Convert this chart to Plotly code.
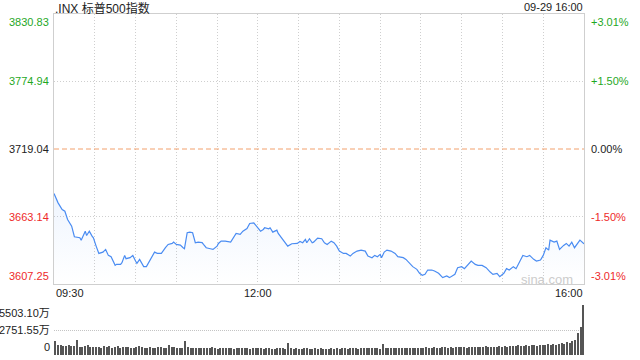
import plotly.graph_objects as go
import pandas as pd

DATE = "2022-09-29"
PREV_CLOSE = 3719.04

times = ["09:30","09:33","09:36","09:38","09:40","09:43","09:45","09:49","09:50","09:53","09:54","09:56","09:58","09:59",
         "10:01","10:03","10:06","10:08","10:10","10:12","10:15","10:16","10:19","10:20","10:22","10:23","10:26","10:28",
         "10:30","10:31","10:33","10:36","10:38","10:41","10:44","10:46","10:49","10:52","10:54","10:57","10:58",
         "11:00","11:03","11:05","11:06","11:08","11:10","11:12","11:14","11:16","11:19","11:20","11:22","11:25","11:27",
         "11:30","11:31","11:33","11:36","11:40","11:42","11:44","11:47","11:49","11:52","11:54","11:57","11:59",
         "12:02","12:04","12:05","12:08","12:09","12:11","12:14","12:15","12:18","12:20","12:22","12:25","12:29",
         "12:31","12:33","12:35","12:36","12:38","12:40","12:41","12:44","12:47","12:49","12:51","12:54","12:56","12:58",
         "13:00","13:03","13:05","13:08","13:10","13:13","13:16","13:19","13:21","13:24","13:26","13:28",
         "13:30","13:31","13:33","13:35","13:38","13:41","13:43","13:47","13:49","13:52","13:54","13:57","13:59",
         "14:01","14:03","14:05","14:08","14:10","14:13","14:16","14:19","14:21","14:25","14:27",
         "14:30","14:32","14:35","14:37","14:40","14:42","14:45","14:48","14:51","14:53","14:56","14:58",
         "15:01","15:03","15:05","15:08","15:10","15:12","15:15","15:18","15:20","15:23","15:25","15:28",
         "15:30","15:32","15:34","15:35","15:38","15:40","15:42","15:45","15:47","15:49","15:51","15:53","15:55","15:57","16:00"]

prices = [3682.13,3674.45,3668.92,3667.52,3660.66,3655.13,3646.38,3645.55,3643.57,3651.00,3647.45,3651.00,3646.87,3645.55,
          3638.62,3632.59,3633.66,3635.89,3630.94,3629.86,3622.68,3623.51,3623.51,3624.91,3630.94,3628.21,3629.04,3630.94,
          3626.23,3624.33,3627.64,3621.61,3621.61,3627.64,3633.66,3632.59,3632.59,3637.30,3640.02,3640.85,3641.92,
          3640.02,3639.50,3637.30,3636.47,3649.68,3650.18,3649.68,3641.42,3641.92,3641.50,3640.02,3637.30,3636.47,3635.89,
          3638.62,3640.85,3642.75,3642.75,3641.92,3645.55,3649.10,3648.28,3651.00,3653.23,3657.36,3657.94,3655.13,
          3651.00,3652.41,3653.81,3652.98,3653.81,3650.18,3651.83,3649.10,3644.73,3641.42,3638.62,3640.60,3640.85,
          3642.50,3641.42,3644.15,3641.42,3644.73,3641.42,3641.92,3645.22,3644.73,3641.42,3640.02,3642.75,3641.42,3638.62,
          3634.49,3632.59,3632.59,3630.36,3632.59,3634.49,3635.31,3634.49,3630.36,3629.04,3630.94,3629.86,
          3631.76,3629.04,3633.66,3635.31,3634.49,3632.59,3629.86,3629.04,3627.64,3623.51,3621.61,3619.38,3616.08,
          3614.42,3615.25,3618.80,3618.80,3617.97,3616.08,3612.52,3613.85,3612.52,3615.25,3620.78,
          3621.61,3619.96,3623.51,3626.23,3623.51,3622.68,3622.68,3620.78,3617.15,3615.25,3616.08,3613.35,
          3616.08,3619.96,3618.80,3621.61,3619.96,3624.33,3630.94,3629.86,3630.94,3627.64,3626.23,3627.06,
          3630.94,3637.30,3635.31,3643.57,3641.92,3642.75,3635.89,3639.19,3640.85,3638.62,3641.92,3637.30,3640.02,3643.57,3640.47]

# per-2-minute volume (万), 09:30 .. 16:00
volumes = [1500,1150,1080,1020,980,1100,950,1000,1600,920,880,950,1050,900,870,
           850,900,820,1000,880,940,810,860,1000,780,900,830,880,760,820,900,1000,850,790,820,880,760,800,850,900,780,820,1100,900,840,
           800,760,820,1500,850,780,740,800,820,760,720,800,780,850,740,700,760,800,720,780,820,700,760,740,800,720,760,700,780,740,
           760,720,700,780,740,700,680,760,720,800,700,1300,720,680,740,700,660,720,760,700,680,740,700,720,680,660,700,740,700,720,
           700,740,760,700,720,780,740,700,760,720,800,740,780,720,760,700,1200,740,780,760,800,740,720,760,800,780,740,820,760,800,
           820,780,840,800,760,860,820,780,840,900,820,860,800,880,840,900,860,820,880,920,860,900,840,880,960,900,860,920,880,940,
           900,960,920,1000,940,980,1050,960,1000,1080,1020,1100,1050,1000,1150,1080,1120,1200,1100,1250,1150,1200,1300,1250,1400,1350,1500,1600,2400,3080,5503.10]

y_ticks = [3830.83, 3774.94, 3719.04, 3663.14, 3607.25]
pct_labels = ["+3.01%", "+1.50%", "0.00%", "-1.50%", "-3.01%"]
vol_tick_vals = [5503.10, 2751.55, 0]
vol_tick_text = ["5503.10万", "2751.55万", "0"]
x_labels = ["09:30", "12:00", "16:00"]
title_text = ".INX 标普500指数"
stamp_text = "09-29 16:00"

GREEN = "#1fa81f"
RED = "#ee2a2a"
DARK = "#222222"
FONT = "Arial, 'Liberation Sans', 'Noto Sans CJK SC', sans-serif"

x = pd.to_datetime([f"{DATE} {t}" for t in times])
vol_x = pd.date_range(f"{DATE} 09:30", f"{DATE} 16:00", freq="2min")
grid_x = pd.date_range(f"{DATE} 10:00", f"{DATE} 15:30", freq="30min")
x0 = pd.Timestamp(f"{DATE} 09:30")
x1 = pd.Timestamp(f"{DATE} 16:00")

fig = go.Figure()
fig.add_trace(go.Scatter(x=x, y=[y_ticks[-1]] * len(x), mode="lines",
                         line=dict(width=0, color="rgba(0,0,0,0)"), hoverinfo="skip", showlegend=False))
fig.add_trace(go.Scatter(x=x, y=prices, mode="lines", line=dict(color="#4a8cf2", width=1.2),
                         fill="tonexty",
                         fillgradient=dict(type="vertical", start=y_ticks[-1], stop=max(prices),
                                           colorscale=[[0, "rgba(74,140,242,0.0)"], [1, "rgba(74,140,242,0.09)"]]),
                         showlegend=False))
fig.add_trace(go.Bar(x=vol_x, y=volumes, xaxis="x2", yaxis="y2", marker=dict(color="#555555", line=dict(width=0)),
                     width=55000, showlegend=False))

xdom = [54 / 640, 584 / 640]
fig.update_layout(
    width=640, height=360, margin=dict(l=0, r=0, t=0, b=0),
    paper_bgcolor="white", plot_bgcolor="white",
    font=dict(family=FONT, size=11, color=DARK),
    bargap=0,
    xaxis=dict(domain=xdom, range=[x0, x1], type="date", tickvals=grid_x, showticklabels=False, ticks="",
               showgrid=True, gridcolor="#cfcfcf", griddash="1px,2px", gridwidth=1,
               showline=True, linecolor="#cfcfcf", linewidth=1, mirror=True, zeroline=False),
    yaxis=dict(domain=[1 - 284 / 360, 1 - 14 / 360], range=[y_ticks[-1], y_ticks[0]],
               tickvals=[y_ticks[1], y_ticks[3]], showticklabels=False, ticks="",
               showgrid=True, gridcolor="#cfcfcf", griddash="1px,2px", gridwidth=1,
               showline=True, linecolor="#cfcfcf", linewidth=1, mirror=True, zeroline=False),
    xaxis2=dict(domain=xdom, anchor="y2", range=[x0 - pd.Timedelta(minutes=1), x1 + pd.Timedelta(seconds=30)],
                type="date", showticklabels=False, ticks="", showgrid=False, showline=False, zeroline=False),
    yaxis2=dict(domain=[1 - 355 / 360, 1 - 305 / 360], anchor="x2", range=[0, vol_tick_vals[0]],
                tickvals=vol_tick_vals[:2], showticklabels=False, ticks="",
                showgrid=True, gridcolor="#c4c4c4", griddash="1px,1px", gridwidth=1,
                showline=False, zeroline=False),
)

# previous close dashed line
fig.add_shape(type="line", xref="x domain", yref="y", x0=0, x1=1, y0=PREV_CLOSE, y1=PREV_CLOSE,
              line=dict(color="#f2a06c", width=1, dash="5px,3px"))

ann = []
colors = [GREEN, GREEN, DARK, RED, RED]
anchors = ["top", "middle", "middle", "middle", "bottom"]
for v, p, c, a in zip(y_ticks, pct_labels, colors, anchors):
    ann.append(dict(x=51 / 640, xref="paper", y=v, yref="y", text=f"{v:.2f}", xanchor="right", yanchor=a,
                    showarrow=False, font=dict(color=c, size=11)))
    ann.append(dict(x=589 / 640, xref="paper", y=v, yref="y", text=p, xanchor="left", yanchor=a,
                    showarrow=False, font=dict(color=c, size=11)))

for v, t, a in zip(vol_tick_vals, vol_tick_text, ["top", "middle", "bottom"]):
    ann.append(dict(x=52 / 640, xref="paper", y=v, yref="y2", text=t, xanchor="right", yanchor=a,
                    showarrow=False, font=dict(color=DARK, size=11)))

ann.append(dict(x=54 / 640, xref="paper", y=1 - 293 / 360, yref="paper", text=x_labels[0], xanchor="left",
                yanchor="middle", showarrow=False))
ann.append(dict(x=pd.Timestamp(f"{DATE} {x_labels[1]}"), xref="x", y=1 - 293 / 360, yref="paper", text=x_labels[1],
                xanchor="center", yanchor="middle", showarrow=False))
ann.append(dict(x=585 / 640, xref="paper", y=1 - 293 / 360, yref="paper", text=x_labels[2], xanchor="right",
                yanchor="middle", showarrow=False))

ann.append(dict(x=53 / 640, xref="paper", y=1 - 8 / 360, yref="paper", text=title_text, xanchor="left",
                yanchor="middle", showarrow=False, font=dict(size=12, color=DARK)))
ann.append(dict(x=585 / 640, xref="paper", y=1 - 7 / 360, yref="paper", text=stamp_text, xanchor="right",
                yanchor="middle", showarrow=False, font=dict(size=11, color=DARK)))
ann.append(dict(x=575 / 640, xref="paper", y=1 - 279 / 360, yref="paper", text="sina.com", xanchor="right",
                yanchor="middle", showarrow=False, font=dict(size=13, color="#cccccc")))

fig.update_layout(annotations=ann)
fig.write_html("out.html", config={"displayModeBar": False},
               post_script="document.body.style.margin='0';document.body.style.overflow='hidden';")
